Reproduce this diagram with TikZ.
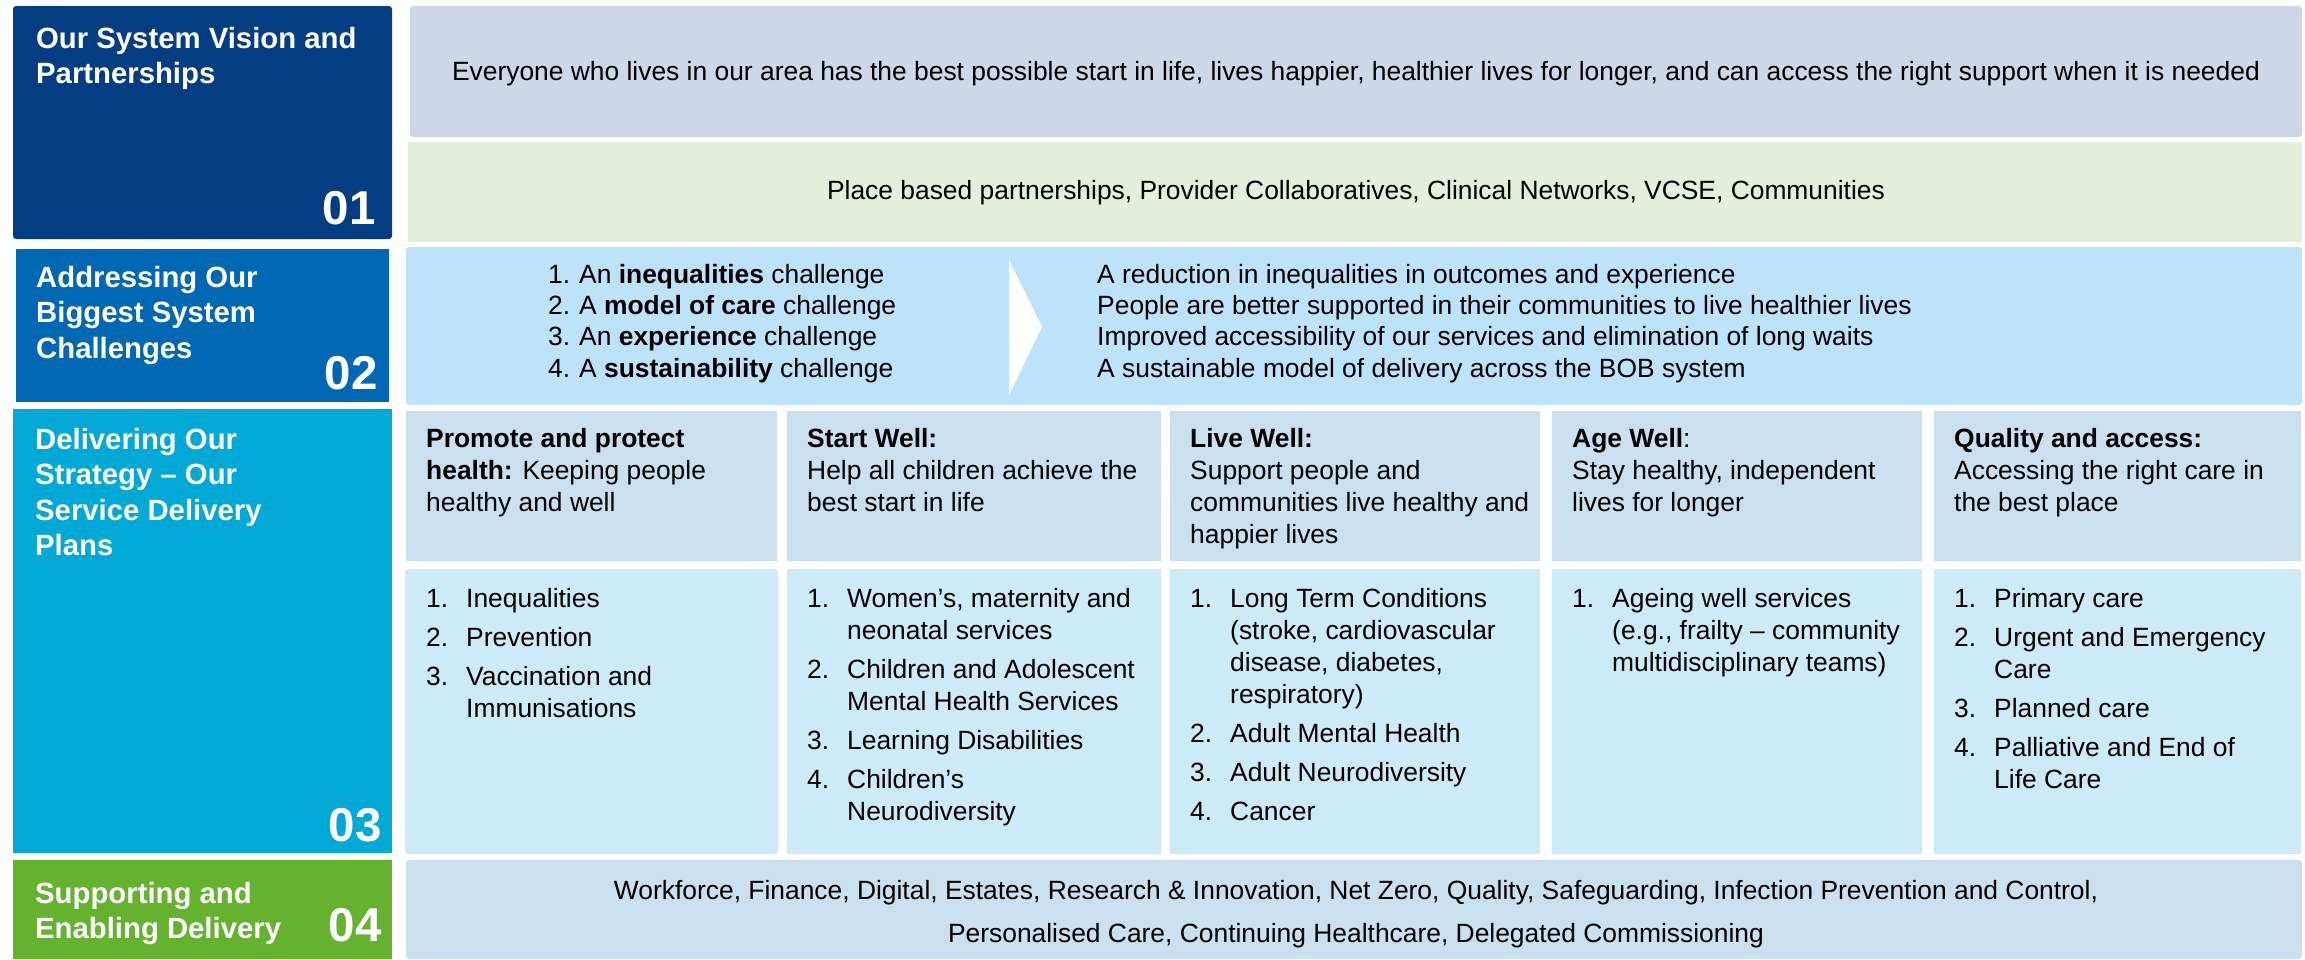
\documentclass[tikz,border=0pt]{standalone}
\usepackage{fontspec}
\setmainfont{Liberation Sans}
\definecolor{cA}{HTML}{043D82}
\definecolor{cB}{HTML}{0067B3}
\definecolor{cC}{HTML}{00A8D6}
\definecolor{cD}{HTML}{65B22E}
\definecolor{vision}{HTML}{CCD8E7}
\definecolor{partner}{HTML}{E3EFDB}
\definecolor{chall}{HTML}{BDE3FB}
\definecolor{head}{HTML}{CBE0EF}
\definecolor{items}{HTML}{CCEBF6}
\newcommand{\bodyfont}{\fontsize{26.4}{32}\selectfont}
\newcommand{\labfont}{\fontsize{29.3}{35.5}\selectfont\bfseries}
\newcommand{\numfont}{\fontsize{47.5}{50}\selectfont\bfseries}
\newcommand{\itm}[1]{\makebox[40pt][l]{#1}}
\newcommand{\ind}{\hspace*{40pt}}
\begin{document}
\begin{tikzpicture}[x=1pt,y=-1pt,
  box/.style={anchor=north west, inner sep=0pt, outer sep=0pt, rounded corners=3pt},
  lab/.style={anchor=north west, inner sep=0pt, align=left, text=white, font=\labfont},
  num/.style={anchor=base east, inner sep=0pt, text=white, font=\numfont},
  body/.style={anchor=north west, inner sep=0pt, align=left, font=\bodyfont},
  cbody/.style={anchor=base, inner sep=0pt, font=\bodyfont}]
\useasboundingbox (0,0) rectangle (2305,959);
% left column
\node[box, fill=cA, minimum width=379pt, minimum height=233pt] (b01) at (13,6) {};
\node[box, fill=cB, rounded corners=0pt, minimum width=373pt, minimum height=153pt] (b02) at (16,249) {};
\node[box, fill=cC, rounded corners=0pt, minimum width=379pt, minimum height=444pt] (b03) at (13,409) {};
\node[box, fill=cD, rounded corners=0pt, minimum width=379pt, minimum height=99pt] (b04) at (13,860) {};
\node[lab] (l01) at (36,23.2) {\strut Our System Vision and\\Partnerships};
\node[lab] (l02) at (36,262.2) {\strut Addressing Our\\Biggest System\\Challenges};
\node[lab] (l03) at (35,424.2) {\strut Delivering Our\\Strategy – Our\\Service Delivery\\Plans};
\node[lab] (l04) at (35,878.2) {\strut Supporting and\\Enabling Delivery};
\node[num] (n01) at (376,224) {01};
\node[num] (n02) at (378,389) {02};
\node[num] (n03) at (382,841) {03};
\node[num] (n04) at (382,941) {04};
% right rows
\node[box, fill=vision, minimum width=1892pt, minimum height=131pt] (vis) at (410,6) {};
\node[cbody] (vist) at (1356,80) {Everyone who lives in our area has the best possible start in life, lives happier, healthier lives for longer, and can access the right support when it is needed};
\node[box, fill=partner, rounded corners=0pt, minimum width=1894pt, minimum height=100pt] (par) at (408,142) {};
\node[cbody] (part) at (1356,199) {Place based partnerships, Provider Collaboratives, Clinical Networks, VCSE, Communities};
\node[box, fill=chall, minimum width=1896pt, minimum height=158pt] (cha) at (406,247) {};
\fill[white] (1009,260) -- (1042,327) -- (1009,395) -- cycle;
\node[body, font=\fontsize{26.4}{31.3}\selectfont] (chl) at (548,261.1) {\strut\makebox[31pt][l]{1.}An \textbf{inequalities} challenge\\\makebox[31pt][l]{2.}A \textbf{model of care} challenge\\\makebox[31pt][l]{3.}An \textbf{experience} challenge\\\makebox[31pt][l]{4.}A \textbf{sustainability} challenge};
\node[body, font=\fontsize{26.4}{31.3}\selectfont] (chr) at (1097,261.1) {\strut A reduction in inequalities in outcomes and experience\\People are better supported in their communities to live healthier lives\\Improved accessibility of our services and elimination of long waits\\A sustainable model of delivery across the BOB system};
% column headers
\node[box, fill=head, rounded corners=0pt, minimum width=371pt, minimum height=150pt] (h1) at (406,411) {};
\node[box, fill=head, rounded corners=0pt, minimum width=374pt, minimum height=150pt] (h2) at (787,411) {};
\node[box, fill=head, rounded corners=0pt, minimum width=370pt, minimum height=150pt] (h3) at (1170,411) {};
\node[box, fill=head, rounded corners=0pt, minimum width=370pt, minimum height=150pt] (h4) at (1552,411) {};
\node[box, fill=head, rounded corners=0pt, minimum width=367pt, minimum height=150pt] (h5) at (1934,411) {};
\node[body] (h1t) at (426,424.6) {\strut\textbf{Promote and protect}\\\textbf{health:} Keeping people\\healthy and well};
\node[body] (h2t) at (807,424.6) {\strut\textbf{Start Well:}\\Help all children achieve the\\best start in life};
\node[body] (h3t) at (1190,424.6) {\strut\textbf{Live Well:}\\Support people and\\communities live healthy and\\happier lives};
\node[body] (h4t) at (1572,424.6) {\strut\textbf{Age Well}:\\Stay healthy, independent\\lives for longer};
\node[body] (h5t) at (1954,424.6) {\strut\textbf{Quality and access:}\\Accessing the right care in\\the best place};
% items
\node[box, fill=items, minimum width=373pt, minimum height=285pt] (i1) at (405,569) {};
\node[box, fill=items, rounded corners=0pt, minimum width=374pt, minimum height=285pt] (i2) at (787,569) {};
\node[box, fill=items, rounded corners=0pt, minimum width=370pt, minimum height=285pt] (i3) at (1170,569) {};
\node[box, fill=items, rounded corners=0pt, minimum width=370pt, minimum height=285pt] (i4) at (1552,569) {};
\node[box, fill=items, rounded corners=0pt, minimum width=367pt, minimum height=285pt] (i5) at (1934,569) {};
\node[body] (i1t) at (426,584.6) {\strut\itm{1.}Inequalities\\[7pt]\itm{2.}Prevention\\[7pt]\itm{3.}Vaccination and\\\ind Immunisations};
\node[body] (i2t) at (807,584.6) {\strut\itm{1.}Women’s, maternity and\\\ind neonatal services\\[7pt]\itm{2.}Children and Adolescent\\\ind Mental Health Services\\[7pt]\itm{3.}Learning Disabilities\\[7pt]\itm{4.}Children’s\\\ind Neurodiversity};
\node[body] (i3t) at (1190,584.6) {\strut\itm{1.}Long Term Conditions\\\ind (stroke, cardiovascular\\\ind disease, diabetes,\\\ind respiratory)\\[7pt]\itm{2.}Adult Mental Health\\[7pt]\itm{3.}Adult Neurodiversity\\[7pt]\itm{4.}Cancer};
\node[body] (i4t) at (1572,584.6) {\strut\itm{1.}Ageing well services\\\ind (e.g., frailty – community\\\ind multidisciplinary teams)};
\node[body] (i5t) at (1954,584.6) {\strut\itm{1.}Primary care\\[7pt]\itm{2.}Urgent and Emergency\\\ind Care\\[7pt]\itm{3.}Planned care\\[7pt]\itm{4.}Palliative and End of\\\ind Life Care};
% bottom
\node[box, fill=head, minimum width=1896pt, minimum height=99pt] (bot) at (406,860) {};
\node[cbody] (bot1) at (1356,899) {Workforce, Finance, Digital, Estates, Research \& Innovation, Net Zero, Quality, Safeguarding, Infection Prevention and Control,};
\node[cbody] (bot2) at (1356,942) {Personalised Care, Continuing Healthcare, Delegated Commissioning};
\end{tikzpicture}
\end{document}
